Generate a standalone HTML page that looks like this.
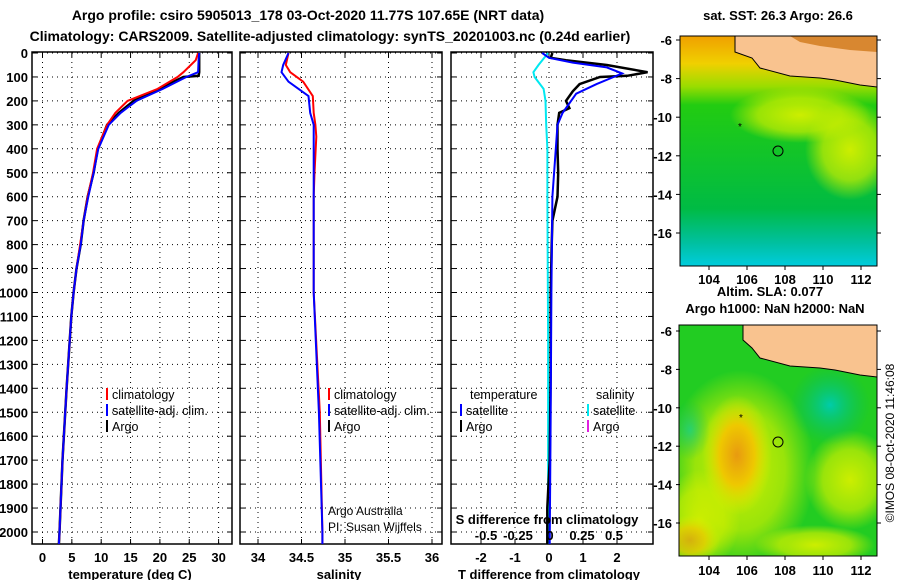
<!DOCTYPE html>
<html><head><meta charset="utf-8"><style>
body{margin:0;background:#fff;width:900px;height:580px;overflow:hidden}
svg{display:block}
text{font-family:"Liberation Sans",sans-serif}
.t{font-weight:bold;font-size:14px}
.k{font-weight:bold;font-size:13px}
.lg{font-size:12.5px}
</style></head><body>
<svg id="c" width="900" height="580" viewBox="0 0 900 580">
<defs>
<radialGradient id="g1" cx="0.5" cy="0.5" r="0.5"><stop offset="0" stop-color="#ccee00"/><stop offset="0.6" stop-color="#ccee00" stop-opacity="0.7"/><stop offset="1" stop-color="#ccee00" stop-opacity="0"/></radialGradient>
<radialGradient id="g2" cx="0.5" cy="0.5" r="0.5"><stop offset="0" stop-color="#e89a10"/><stop offset="0.5" stop-color="#eec800"/><stop offset="1" stop-color="#ddee00" stop-opacity="0"/></radialGradient>
<radialGradient id="g3" cx="0.5" cy="0.5" r="0.5"><stop offset="0" stop-color="#00ccaa"/><stop offset="1" stop-color="#00bb66" stop-opacity="0"/></radialGradient>
<linearGradient id="tm" x1="0" y1="0" x2="0" y2="1"><stop offset="0" stop-color="#f0a000"/><stop offset="0.12" stop-color="#f0d000"/><stop offset="0.22" stop-color="#99dd00"/><stop offset="0.3" stop-color="#22cc11"/><stop offset="0.75" stop-color="#00bb44"/><stop offset="0.9" stop-color="#00c0a0"/><stop offset="1" stop-color="#00ccdd"/></linearGradient>
<clipPath id="mc1"><rect x="680" y="36" width="197" height="230"/></clipPath>
<clipPath id="mc2"><rect x="679" y="325" width="198" height="231"/></clipPath>
</defs>
<text class="t" x="308" y="20" text-anchor="middle">Argo profile: csiro 5905013_178 03-Oct-2020 11.77S 107.65E (NRT data)</text>
<text class="t" x="330" y="41" text-anchor="middle">Climatology: CARS2009. Satellite-adjusted climatology: synTS_20201003.nc (0.24d earlier)</text>
<g id="panels"></g>
<g>
<text class="k" x="778" y="20" text-anchor="middle">sat. SST: 26.3 Argo: 26.6</text>
<g clip-path="url(#mc1)">
<rect x="680" y="36" width="197" height="230" fill="url(#tm)"/>
<ellipse cx="850" cy="150" rx="45" ry="50" fill="url(#g1)"/>
<ellipse cx="800" cy="115" rx="70" ry="28" fill="url(#g1)"/>
<path d="M735,36 L877,36 L877,87 L860,85 L835,80 L820,78 L790,76 L760,68 L752,58 L735,52 Z" fill="#f9c38f" stroke="#000" stroke-width="1"/>
<path d="M790,36 L877,36 L877,52 L850,50 L820,46 L800,42 Z" fill="#d07818" opacity="0.8"/>
</g>
<circle cx="778" cy="151" r="5" fill="none" stroke="#000"/>
<text x="738" y="130" font-size="10">*</text>
<rect x="680" y="36" width="197" height="230" fill="none" stroke="#000"/>
</g>
<text class="k" x="770" y="296" text-anchor="middle">Altim. SLA: 0.077</text>
<text class="k" x="775" y="313" text-anchor="middle">Argo h1000: NaN h2000: NaN</text>
<g>
<g clip-path="url(#mc2)">
<rect x="679" y="325" width="198" height="231" fill="#22cc22"/>
<ellipse cx="740" cy="470" rx="75" ry="100" fill="url(#g1)"/>
<ellipse cx="700" cy="520" rx="40" ry="50" fill="url(#g1)"/>
<ellipse cx="850" cy="480" rx="45" ry="50" fill="url(#g1)"/>
<ellipse cx="815" cy="545" rx="60" ry="20" fill="url(#g1)"/>
<ellipse cx="737" cy="455" rx="35" ry="60" fill="url(#g2)"/>
<ellipse cx="690" cy="540" rx="30" ry="25" fill="url(#g2)" opacity="0.7"/>
<ellipse cx="830" cy="405" rx="40" ry="40" fill="url(#g3)"/>
<ellipse cx="690" cy="430" rx="20" ry="30" fill="url(#g3)" opacity="0.6"/>
<path d="M743,325 L877,325 L877,377 L860,375 L835,370 L820,368 L790,366 L760,358 L752,348 L743,340 Z" fill="#f9c38f" stroke="#000" stroke-width="1"/>
</g>
<circle cx="778" cy="442" r="5" fill="none" stroke="#000"/>
<text x="739" y="421" font-size="10">*</text>
<rect x="679" y="325" width="198" height="231" fill="none" stroke="#000"/>
</g>
<g id="maxes"></g>
<text x="894" y="443" font-size="12" text-anchor="middle" transform="rotate(-90 894 443)">©IMOS 08-Oct-2020 11:46:08</text>
</svg>
<script>
var depthTicks=[0,100,200,300,400,500,600,700,800,900,1000,1100,1200,1300,1400,1500,1600,1700,1800,1900,2000];
var tTicks=[0,5,10,15,20,25,30];
var sTicks=[34,34.5,35,35.5,36];
var sTickLabels=["34","34.5","35","35.5","36"];
var dTicks=[-2,-1,0,1,2];
var sdTicks=[-0.5,-0.25,0,0.25,0.5];
var sdTickLabels=["-0.5","-0.25","0","0.25","0.5"];
var argoDepth=[0,20,50,80,95,100,130,150,180,200,230,250,300,400,500,600,700,800,900,1000,1100,1400,1700,2000,2050];
var argoT=[26.7,26.7,26.7,26.7,26.6,24,21.5,20,17.2,15.5,14,13,11,9.4,8.7,7.7,7,6.5,5.8,5.3,4.9,4.1,3.4,2.9,2.8];
var climDepth=[0,30,80,100,150,200,250,300,400,500,600,700,800,900,1000,1100,1400,1700,2000,2050];
var climT=[26.5,26.1,24,23,19.6,14.5,12.4,11,9.3,8.6,7.7,7,6.4,5.8,5.3,4.9,4.1,3.4,2.9,2.8];
var satT=[26.7,26.6,26.5,24.5,20.5,16,13.3,11.3,9.5,8.7,7.8,7,6.5,5.8,5.3,4.9,4.1,3.4,2.9,2.8];
var climS=[34.35,34.32,34.37,34.52,34.63,34.64,34.66,34.67,34.65,34.64,34.64,34.64,34.71,34.74,34.74];
var satS=[34.35,34.29,34.27,34.35,34.58,34.6,34.64,34.64,34.64,34.64,34.64,34.64,34.7,34.74,34.74];
var sDepth=[0,50,80,120,180,250,300,350,500,600,800,1000,1500,2000,2050];
var argoDT=[0.1,0.05,0.5,1.7,2.9,2.3,1.5,0.9,0.7,0.5,0.6,0.3,0.25,0.25,0.27,0.25,0.1,0.08,0.05,0.05,0.02,-0.05,-0.05];
var argoDTDepth=[0,20,30,50,80,95,100,130,160,200,230,250,300,400,500,600,700,800,1000,1300,1700,1900,2050];
var satDT=[-0.2,0,0.7,1.7,2.15,1.9,1.4,0.8,0.4,0.25,0.2,0.1,0.07,0.05,0.02];
var satDTDepth=[0,20,40,60,85,100,130,170,250,300,400,600,1000,1500,2050];
var satDS=[-0.015,-0.09,-0.13,-0.12,-0.05,-0.035,-0.03,-0.02,-0.02,-0.015,-0.015];
var satDSDepth=[0,50,80,100,150,200,300,400,600,1200,2050];
var lats=[-6,-8,-10,-12,-14,-16];
var lons=[104,106,108,110,112];

var NS="http://www.w3.org/2000/svg";
var P=document.getElementById('panels');
function el(tag,attrs,parent,txt){var e=document.createElementNS(NS,tag);for(var k in attrs)e.setAttribute(k,attrs[k]);if(txt!==undefined)e.textContent=txt;(parent||P).appendChild(e);return e;}
var TOP=52,BOT=544;
function yD(d){return 53+d*0.2395;}
var panels=[
 {name:'temperature',x0:32,x1:232,fx:function(v){return 42.5+v*5.87;},ticks:tTicks,labels:tTicks.map(String),title:'temperature (deg C)',tx:130},
 {name:'salinity',x0:240,x1:442,fx:function(v){return 258+(v-34)*87;},ticks:sTicks,labels:sTickLabels,title:'salinity',tx:339},
 {name:'t-difference',x0:451,x1:653,fx:function(v){return 549+v*34;},ticks:dTicks,labels:dTicks.map(String),title:'T difference from climatology',tx:549}
];
var cp=el('clipPath',{id:'pc0'});el('rect',{x:32,y:52,width:200,height:492},cp);
var cp1=el('clipPath',{id:'pc1'});el('rect',{x:240,y:52,width:202,height:492},cp1);
var cp2=el('clipPath',{id:'pc2'});el('rect',{x:451,y:52,width:202,height:492},cp2);
panels.forEach(function(p,i){
 var g=el('g',{});
 
 
 depthTicks.forEach(function(d){
  var gl=el('line',{x1:p.x0,x2:p.x1,y1:yD(d),y2:yD(d),stroke:'#000','stroke-width':1,'stroke-dasharray':'1,4'},g);
  
  
  el('line',{x1:p.x0,x2:p.x0+5,y1:yD(d),y2:yD(d),stroke:'#000'},g);
  el('line',{x1:p.x1-5,x2:p.x1,y1:yD(d),y2:yD(d),stroke:'#000'},g);
  if(i===0){var tl=el('text',{x:28,y:yD(d)+5,'text-anchor':'end','class':'k'},g,String(d));
   
   }
 });
 p.ticks.forEach(function(t,j){
  var x=p.fx(t);
  el('line',{x1:x,x2:x,y1:TOP,y2:BOT,stroke:'#000','stroke-dasharray':'1,4'},g);
  el('line',{x1:x,x2:x,y1:BOT-5,y2:BOT,stroke:'#000'},g);
  el('line',{x1:x,x2:x,y1:TOP,y2:TOP+5,stroke:'#000'},g);
  var tl=el('text',{x:x,y:562,'text-anchor':'middle','class':'k'},g,p.labels[j]);
  
  
 });
 var at=el('text',{x:p.tx,y:579,'text-anchor':'middle','class':'k'},g,p.title);
 
 
 var fr=el('rect',{x:p.x0,y:TOP,width:p.x1-p.x0,height:BOT-TOP,fill:'none',stroke:'#000','stroke-width':1.5},g);
 
 
});
function line(fx,vals,deps,color,w,clip,name){
 var pts=vals.map(function(v,k){return fx(v).toFixed(1)+','+yD(deps[k]).toFixed(1);}).join(' ');
 var l=el('polyline',{points:pts,fill:'none',stroke:color,'stroke-width':w,'clip-path':'url(#'+clip+')'});
 
 
}
var f0=panels[0].fx,f1=panels[1].fx,f2=panels[2].fx;
function fs(v){return 550+v*128;}
line(f0,argoT,argoDepth,'#000',2.5,'pc0','argo-temperature-line');
line(f0,climT,climDepth,'#f00',2,'pc0','clim-temperature-line');
line(f0,satT,climDepth,'#00f',2,'pc0','sat-temperature-line');
line(f1,climS,sDepth,'#f00',2,'pc1','clim-salinity-line');
line(f1,satS,sDepth,'#00f',2,'pc1','sat-salinity-line');
line(fs,satDS,satDSDepth,'#00e8f0',2,'pc2','sat-salinity-diff-line');
line(f2,argoDT,argoDTDepth,'#000',2.5,'pc2','argo-temperature-diff-line');
line(f2,satDT,satDTDepth,'#00f',2,'pc2','sat-temperature-diff-line');
var sdt=el('text',{x:547,y:524,'text-anchor':'middle','class':'k','font-size':'12'},P,'S difference from climatology');


sdTicks.forEach(function(t,j){var tl=el('text',{x:fs(t),y:540,'text-anchor':'middle','class':'k','font-size':'12'},P,sdTickLabels[j]);
 
 });
function leg(x,y,color,label,name){
 var g=el('g',{});
 
 
 el('rect',{x:x,y:y-11,width:2,height:12,fill:color},g);
 el('text',{x:x+6,y:y,'class':'lg'},g,label);
}
leg(106,399,'#f00','climatology','legend-climatology');
leg(106,415,'#00f','satellite-adj. clim.','legend-satellite-adj');
leg(106,431,'#000','Argo','legend-argo');
leg(328,399,'#f00','climatology','legend-climatology-s');
leg(328,415,'#00f','satellite-adj. clim.','legend-satellite-adj-s');
leg(328,431,'#000','Argo','legend-argo-s');
var lt=el('text',{x:470,y:399,'class':'lg'},P,'temperature');


var ls=el('text',{x:596,y:399,'class':'lg'},P,'salinity');


leg(460,415,'#00f','satellite','legend-t-satellite');
leg(460,431,'#000','Argo','legend-t-argo');
leg(587,415,'#00e8f0','satellite','legend-s-satellite');
leg(587,431,'#e020e0','Argo','legend-s-argo');
var a1=el('text',{x:328,y:515,'font-size':'12'},P,'Argo Australia');


var a2=el('text',{x:328,y:531,'font-size':'12'},P,'PI: Susan Wijffels');


var M=document.getElementById('maxes');
[{top:36,bot:266,y6:40,y16:233,ly:284},{top:325,bot:556,y6:331,y16:523,ly:575}].forEach(function(m,mi){
 lats.forEach(function(la){
  var y=m.y6+(la+6)/(-10)*(m.y16-m.y6);
  el('line',{x1:676,x2:680,y1:y,y2:y,stroke:'#000'},M);
  el('line',{x1:877,x2:881,y1:y,y2:y,stroke:'#000'},M);
  var t=el('text',{x:672,y:y+5,'text-anchor':'end','class':'k'},M,String(la));
  
  
 });
 lons.forEach(function(lo){
  var x=709+(lo-104)*19;
  el('line',{x1:x,x2:x,y1:m.bot,y2:m.bot+4,stroke:'#000'},M);
  var t=el('text',{x:x,y:m.ly,'text-anchor':'middle','class':'k'},M,String(lo));
  
  
 });
});
</script>
</body></html>
